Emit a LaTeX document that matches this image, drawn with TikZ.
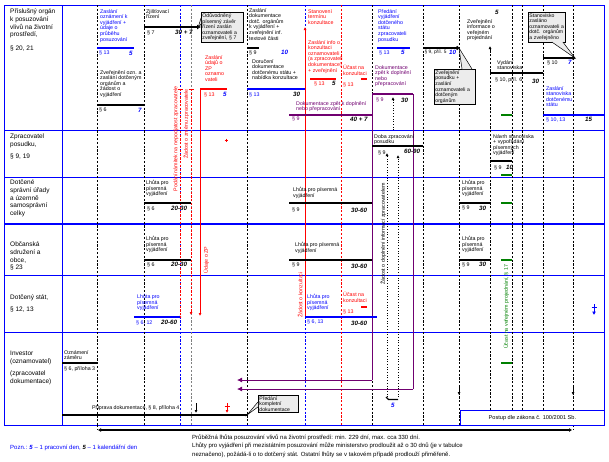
\documentclass[tikz,border=0pt]{standalone}
\usepackage{fontspec}
\setmainfont{Liberation Sans}
\usetikzlibrary{arrows.meta,calc}
\definecolor{eiablue}{RGB}{0,0,255}
\definecolor{eiared}{RGB}{255,0,0}
\definecolor{eiapurple}{RGB}{112,0,112}
\definecolor{eiagreen}{RGB}{0,128,0}
\tikzset{
  txt/.style={anchor=north west, inner sep=0pt, align=left, font=\fontsize{5.3}{5.6}\selectfont},
  head/.style={anchor=north west, inner sep=0pt, align=left, font=\fontsize{6.5}{7.6}\selectfont},
  days/.style={anchor=north west, inner sep=0pt, font=\fontsize{6.2}{6.2}\selectfont\bfseries\itshape},
  rot/.style={rotate=90, inner sep=0pt, font=\fontsize{5.3}{5.6}\selectfont},
  bar/.style={line width=2.4pt},
  cbar/.style={line width=1.8pt},
  timeline/.style={line width=0.6pt, dash pattern=on 2.2pt off 1.6pt},
  callout/.style={draw, fill=gray!15, line width=0.5pt, anchor=north west, inner sep=1.2pt, align=left, font=\fontsize{5.1}{5.6}\selectfont},
  tip/.style={-{Latex[length=3pt,width=3pt]}},
}
\begin{document}
\begin{tikzpicture}[x=1pt,y=-1pt]
\useasboundingbox (0,0) rectangle (609,461);

% table
\draw[eiablue, line width=0.8pt] (4,5) rectangle (604,425);
\draw[eiablue, line width=0.8pt] (62,5) -- (62,425);
\foreach \y in {130,177,275,332} \draw[eiablue, line width=0.8pt] (4,\y) -- (604,\y);
\draw[eiablue, line width=1.8pt] (4,224) -- (604,224);

% time lines
\foreach \x in {97,144,247,372,423,459,512,522,543,573} \draw[timeline] (\x,5) -- (\x,425);
\draw[timeline] (97,425) -- (97,430);
\draw[timeline] (573,425) -- (573,430);
\draw[timeline, eiablue] (180,5) -- (180,425);
\draw[timeline, eiablue] (305,5) -- (305,425);
\draw[timeline, eiared] (341,5) -- (341,425);
\draw[timeline, gray] (191,5) -- (191,425);
\draw[timeline, tip] (490,425) -- (490,46);

% red arrows
\draw[timeline, eiared] (180,89) -- (180,317);
\fill[eiared] (180,317) circle (1.3pt);
\draw[timeline, eiared, tip] (191,89) -- (191,315);
\draw[eiared, line width=0.6pt] (177.5,89) -- (182.5,89) (188.5,89) -- (193.5,89);
\draw[eiared, line width=0.8pt, tip] (200,89) -- (200,316);
\draw[eiared, line width=0.8pt, tip] (305,317) -- (305,27);
\draw[eiared, line width=0.5pt] (224.5,140) -- (227.5,140) (226,138.5) -- (226,141.5);

% purple returns
\draw[eiapurple, line width=0.8pt] (372,94) -- (372,380);
\draw[eiapurple, line width=0.8pt] (413,94) -- (413,389);
\draw[eiapurple, line width=0.8pt, -{Latex[length=5pt,width=5pt]}] (372,380) -- (237,380);
\draw[eiapurple, line width=0.8pt, -{Latex[length=5pt,width=5pt]}] (413,389) -- (237,389);
\draw[cbar, eiapurple] (372,94) -- (413,94);
\draw[cbar, eiapurple] (289,115) -- (372,115);

% dotted request
\draw[dotted, line width=0.7pt, tip] (393,130) -- (393,97);
\draw[dotted, line width=0.7pt, tip] (387,397) -- (387,153);
\draw[dotted, line width=0.7pt, tip] (398,397) -- (398,155);
\draw[line width=1.4pt] (386,397) -- (388.5,399.5) -- (398,399.5);
\node[days, eiablue] at (391,403) {5};

% green marks
\foreach \y in {115,175,203,260,363} \draw[eiagreen, line width=2pt] (501,\y) -- (512,\y);

% --- Prislusny organ
\node[head] at (10,9) {Příslušný orgán\\k posuzování\\vlivů na životní\\prostředí,};
\node[head] at (10,46) {§ 20, 21};

\node[txt, eiablue] at (100,9) {Zaslání\\oznámení k\\vyjádření +\\údaje o\\průběhu\\posuzování};
\draw[cbar, eiablue] (97,48) -- (134,48);
\node[txt, eiablue] at (99,50) {§ 13};
\node[days, eiablue] at (129,51) {5};

\node[txt] at (100,70) {Zveřejnění ozn. a\\zaslání dotčeným\\orgánům a\\žádost o\\vyjádření};
\draw[bar] (97,105) -- (144,105);
\node[txt] at (99,107) {§ 6};
\node[days, eiablue] at (138,108) {7};

\node[txt] at (146,9) {Zjišťovací\\řízení};
\coordinate (zjend) at (201,27);
\draw[bar, -{Latex[length=4pt,width=5pt]}] (144,27) -- (zjend);
\node[txt] at (147,30) {§ 7};
\node[days] at (175,30) {30 + 7};

\node[callout, text width=40pt] (zaver) at (201,12) {Odůvodněný\\písemný závěr\\řízení zaslán\\oznamovateli a\\zveřejnění, § 7};
\path[fill=gray!15, draw=black, line width=0.5pt] ($(zaver.north west)+(0,6)$) -- ($(zjend)+(-3,1)$) -- ($(zaver.north west)+(0,12)$);

\node[txt, eiared] at (205,55) {Zaslání\\údajů o\\ZP\\oznamo\\vateli};
\draw[cbar, eiared] (200,89) -- (227,89);
\node[txt, eiared] at (204,92) {§ 13};
\node[days, eiablue] at (223,92) {5};

\node[txt] at (249,8) {Zaslání\\dokumentace\\dotč. orgánům\\k vyjádření +\\zveřejnění inf.\\textové části};
\draw[bar] (247,48) -- (259,48);
\node[txt] at (249,50) {§ 9};
\node[days, eiablue] at (281,50) {10};

\node[txt] at (252,59) {Doručení\\dokumentace\\dotčenému státu +\\nabídka konzultace};
\draw[cbar, eiablue] (247,89) -- (305,89);
\node[txt, eiablue] at (249,92) {§ 13};
\node[days] at (293,92) {30};

\node[txt, eiared] at (308,9) {Stanovení\\termínu\\konzultace};
\node[txt, eiared] at (308,40) {Zaslání info o\\konzultaci\\oznamovateli\\(a zpracovateli\\dokumentace)\\+ zveřejnění};
\draw[cbar, eiared] (310,79) -- (336,79);
\node[txt, eiared] at (314,81) {§ 13};
\node[days] at (332,81) {5};

\node[txt, eiared] at (343,65) {Účast na\\konzultaci};
\draw[cbar, eiared] (361,79) -- (367,79);
\node[txt, eiared] at (343,82) {§ 13};

\node[txt, eiapurple] at (375,65) {Dokumentace\\zpět k doplnění\\nebo\\přepracování};
\node[txt, eiapurple] at (376,97) {§ 9};
\node[days] at (401,98) {30};

\node[txt, eiapurple] at (296,101) {Dokumentace zpět k doplnění\\nebo přepracování};
\node[txt, eiapurple] at (292,116) {§ 9};
\node[days] at (350,117) {40 + 7};

\node[txt, eiablue] at (378,9) {Předání\\vyjádření\\dotčeného\\státu\\zpracovateli\\posudku};
\draw[cbar, eiablue] (377,48) -- (410,48);
\node[txt, eiablue] at (379,50) {§ 13};
\node[days, eiablue] at (401,50) {5};

\coordinate (posend) at (459,48);
\draw[bar, -{Circle[length=3.5pt]}] (423,48) -- (posend);
\node[txt, font=\fontsize{4.8}{5.6}\selectfont] at (424.5,50) {§ 9, příl. 5};
\node[days, eiablue] at (449,50) {10};
\node[callout, text width=39pt] (zverej) at (434,69) {Zveřejnění\\posudku +\\zaslání\\oznamovateli a\\dotčeným\\orgánům};
\path[fill=gray!15, draw=black, line width=0.5pt] ($(zverej.north west)+(28,0)$) -- (posend) -- ($(zverej.north west)+(38,0)$);

\node[txt] at (467,19) {Zveřejnění\\informace o\\veřejném\\projednání};
\node[days] at (495,10) {5};

\node[txt] at (497,60) {Vydání\\stanoviska};
\draw[bar] (490,73) -- (543,73);
\node[txt] at (495,77) {§ 10, příl. 6};
\node[days] at (532,79) {30};

\coordinate (stanend) at (575,58);
\draw[bar, -{Circle[length=3.5pt]}] (543,58) -- (stanend);
\node[txt] at (547,60) {§ 10};
\node[days, eiablue] at (568,60) {7};
\node[callout, text width=35pt] (stanov) at (528,12) {Stanovisko\\zasláno\\oznamovateli a\\dotč. orgánům\\a zveřejněno};
\path[fill=gray!15, draw=black, line width=0.5pt] ($(stanov.south east)+(-14,0)$) -- (stanend) -- ($(stanov.south east)+(-3,0)$);

\node[txt, eiablue] at (546,86) {Zaslání\\stanoviska\\dotčenému\\státu};
\draw[cbar, eiablue] (543,115) -- (604,115);
\node[txt, eiablue] at (546,117) {§ 10, 13};
\node[days] at (585,117) {15};

% --- Zpracovatel posudku
\node[head] at (10,134) {Zpracovatel\\posudku,};
\node[head] at (10,154) {§ 9, 19};
\node[txt] at (374,134) {Doba zpracování\\posudku};
\draw[bar] (372,146) -- (423,146);
\node[txt] at (378,150) {§ 9};
\node[days] at (404,149) {60-90};
\node[txt] at (493,134) {Návrh stanoviska\\+ vypořádání\\písemných\\vyjádření};
\draw[bar] (490,161) -- (512,161);
\node[txt] at (494,165) {§ 9};
\node[days] at (506,165) {10};

% --- Dotcene spravni urady
\node[head] at (10,180) {Dotčené\\správní úřady\\a územně\\samosprávní\\celky};
\node[txt] at (146,180) {Lhůta pro\\písemná\\vyjádření};
\draw[bar] (144,203) -- (191,203);
\node[txt] at (147,206) {§ 6};
\node[days] at (171,206) {20-30};
\node[txt] at (293,187) {Lhůta pro písemná\\vyjádření};
\draw[bar] (289,203) -- (372,203);
\node[txt] at (292,207) {§ 9};
\node[days] at (351,208) {30-60};
\node[txt] at (462,180) {Lhůta pro\\písemná\\vyjádření};
\draw[bar] (459,203) -- (490,203);
\node[txt] at (462,205) {§ 9};
\node[days] at (479,206) {30};

% --- Obcanska sdruzeni a obce
\node[head] at (10,242) {Občanská\\sdružení a\\obce,};
\node[head] at (10,265) {§ 23};
\node[txt] at (146,236) {Lhůta pro\\písemná\\vyjádření};
\draw[bar] (144,260) -- (191,260);
\node[txt] at (147,262) {§ 6};
\node[days] at (171,262) {20-30};
\node[txt] at (295,242) {Lhůta pro písemná\\vyjádření};
\draw[bar] (289,260) -- (372,260);
\node[txt] at (292,262) {§ 9};
\node[days] at (351,264) {30-60};
\node[txt] at (462,236) {Lhůta pro\\písemná\\vyjádření};
\draw[bar] (459,260) -- (490,260);
\node[txt] at (462,262) {§ 9};
\node[days] at (479,262) {30};

% --- Dotceny stat
\node[head] at (10,295) {Dotčený stát,};
\node[head] at (10,307) {§ 12, 13};
\node[txt, eiablue] at (137,294) {Lhůta pro\\písemná\\vyjádření};
\draw[cbar, eiablue] (134,317) -- (180,317);
\node[txt, eiablue] at (136,320) {§ 6, 12};
\node[days] at (161,320) {20-60};
\node[txt, eiablue] at (307,294) {Lhůta pro\\písemná\\vyjádření};
\draw[cbar, eiablue] (305,317) -- (377,317);
\node[txt, eiablue] at (307,319) {§ 6, 13};
\node[days] at (351,321) {30-60};
\node[txt, eiared] at (343,292) {Účast na\\konzultaci};
\draw[cbar, eiared] (361,307) -- (367,307);
\node[txt, eiared] at (343,309) {§ 13};
\draw[eiablue, line width=0.8pt, -{Latex[length=3.5pt,width=4pt]}] (594,304) -- (594,315);
\draw[eiablue, line width=0.6pt] (591.5,307) -- (596.5,307);

% --- Investor
\node[head] at (10,351) {Investor\\(oznamovatel)};
\node[head] at (10,371) {(zpracovatel\\dokumentace)};
\node[txt] at (64,350) {Oznámení\\záměru};
\draw[bar] (62,363) -- (97,363);
\node[txt] at (64,366) {§ 6, příloha 3};
\node[txt] at (92,405) {Příprava dokumentace, § 8, příloha 4};
\coordinate (dokend) at (247,415);
\draw[bar] (62,415) -- (dokend);
\draw[line width=0.8pt, tip] (196,403) -- (196,413);
\draw[eiared, line width=0.8pt, tip] (227,403) -- (227,413);
\draw[eiared, line width=0.6pt] (224.5,406) -- (229.5,406);
\node[callout, text width=38pt] (predani) at (258,395) {Předání\\kompletní\\dokumentace};
\path[fill=gray!15, draw=black, line width=0.5pt] ($(predani.south west)+(0,-11)$) -- (dokend) -- ($(predani.south west)+(0,-6)$);
\draw[line width=0.8pt, tip] (459,386) -- (459,395);
\draw[line width=0.8pt, tip] (573,386) -- (573,395);

\node[draw=eiablue, fill=white, line width=0.8pt, anchor=north west, inner sep=0pt, minimum width=144pt, minimum height=15pt, font=\fontsize{5.6}{6}\selectfont] (postup) at (460,410) {Postup dle zákona č. 100/2001 Sb.};

% total duration
\draw[line width=1.8pt, {Latex[length=3pt,width=4pt]}-{Latex[length=3pt,width=4pt]}] (98,430) -- (572,430);

% notes
\node[anchor=west, inner sep=0pt, font=\fontsize{6}{7}\selectfont, eiablue] at (10,448) {Pozn.: \textbf{\textit{5}} – 1 pracovní den, \textcolor{black}{\textbf{\textit{5}}} – 1 kalendářní den};
\node[anchor=north west, inner sep=0pt, align=left, font=\fontsize{6}{8.6}\selectfont] at (192,434) {Průběžná lhůta posuzování vlivů na životní prostředí: min. 229 dní, max. cca 330 dní.\\Lhůty pro vyjádření při mezistátním posuzování může ministerstvo prodloužit až o 30 dnů (je v tabulce\\neznačeno), požádá-li o to dotčený stát. Ostatní lhůty se v takovém případě prodlouží přiměřeně.};

% rotated labels
\node[rot, eiared] at (176,139) {Podání námitek na nepodjatost zpracovatele};
\node[rot, eiared] at (186,124) {Žádost o změnu zpracovatele};
\node[rot, eiared] at (206,260) {Údaje o ZP};
\node[rot, eiared] at (300,295) {Žádost o konzultaci};
\node[rot] at (383,234) {Žádost o doplnění informací zpracovatelem};
\node[rot, eiagreen] at (506,307) {Účast na veřejném projednání, § 17};
\end{tikzpicture}
\end{document}
